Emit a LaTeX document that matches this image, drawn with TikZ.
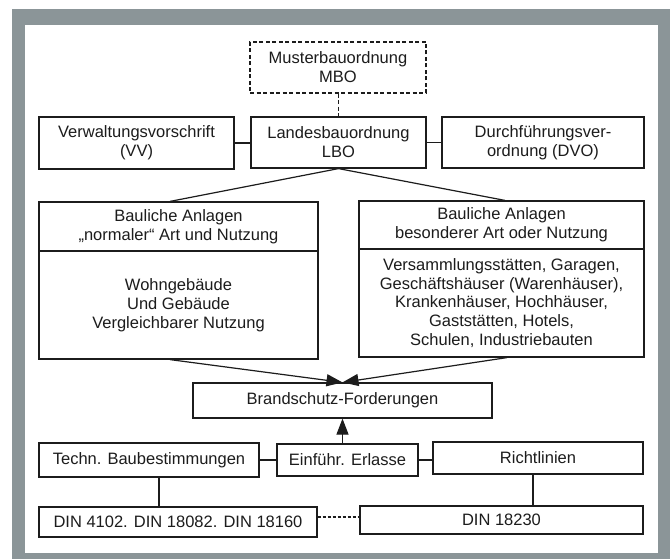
\documentclass[tikz,border=0pt]{standalone}
\usepackage{fontspec}
\setmainfont{Liberation Sans}
\usetikzlibrary{arrows.meta}
\definecolor{frame}{RGB}{139,149,152}
\definecolor{ink}{RGB}{28,28,28}
\begin{document}
\begin{tikzpicture}[x=1pt,y=-1pt,
  box/.style={draw=ink, line width=1.2pt, text=ink, align=center, inner sep=0pt,
    font=\fontsize{16.5}{19}\selectfont},
  conn/.style={draw=ink, line width=1.2pt},
  headtip/.style={-{Triangle[length=16pt,width=12pt]}}]
\useasboundingbox (0,0) rectangle (672,559);
\fill[white] (0,0) rectangle (672,559);
\fill[frame] (12,9) rectangle (670,559);
\fill[white] (25,25) rectangle (658,553);

\node[box, dash pattern=on 4pt off 2.5pt, minimum width=176pt, minimum height=51pt] (mbo) at (338,67.5) {Musterbauordnung\\MBO};
\node[box, minimum width=175pt, minimum height=51pt] (lbo) at (338.5,142.5) {Landesbauordnung\\LBO};
\node[box, minimum width=195pt, minimum height=52pt] (vv) at (136.5,143) {Verwaltungsvorschrift\\(VV)};
\node[box, minimum width=202pt, minimum height=51pt] (dvo) at (543,142.5) {Durchführungsver-\\ordnung (DVO)};

\node[box, minimum width=279pt, minimum height=49pt] (lt) at (178.5,226.5) {Bauliche Anlagen\\„normaler“ Art und Nutzung};
\node[box, minimum width=279pt, minimum height=108pt] (lb) at (178.5,305) {Wohngebäude\\Und Gebäude\\Vergleichbarer Nutzung};
\node[box, minimum width=285pt, minimum height=48pt] (rt) at (501.5,225) {Bauliche Anlagen\\besonderer Art oder Nutzung};
\node[box, minimum width=285pt, minimum height=108pt, font=\fontsize{16.5}{18.8}\selectfont] (rb) at (501.5,303) {Versammlungsstätten, Garagen,\\Geschäftshäuser (Warenhäuser),\\Krankenhäuser, Hochhäuser,\\Gaststätten, Hotels,\\Schulen, Industriebauten};

\node[box, minimum width=299pt, minimum height=35pt] (brand) at (342.5,400.5) {Brandschutz-Forderungen};
\node[box, minimum width=220pt, minimum height=34pt] (techn) at (149,460) {Techn. Baubestimmungen};
\node[box, minimum width=141pt, minimum height=32pt] (ein) at (347.5,460) {Einführ. Erlasse};
\node[box, minimum width=210pt, minimum height=32pt] (rich) at (538,458) {Richtlinien};
\node[box, minimum width=278pt, minimum height=30pt] (din1) at (178,522) {DIN 4102. DIN 18082. DIN 18160};
\node[box, minimum width=283pt, minimum height=28pt] (din2) at (501.5,520) {DIN 18230};

\draw[conn, dash pattern=on 4pt off 2.5pt] (mbo.south -| lbo.north) -- (lbo.north);
\draw[conn] (vv.east) -- (vv.east -| lbo.west);
\draw[conn] (lbo.east) -- (lbo.east -| dvo.west);
\draw[conn] (lbo.south) -- ([xshift=-8.5pt]lt.north);
\draw[conn] (lbo.south) -- ([xshift=3.5pt]rt.north);
\draw[conn, headtip] ([xshift=-8.5pt]lb.south) -- (brand.north);
\draw[conn, headtip] ([xshift=5.5pt]rb.south) -- (brand.north);
\draw[conn, headtip] (ein.north -| brand.south) -- (brand.south);
\draw[conn] (techn.east) -- (ein.west);
\draw[conn] (ein.east) -- (ein.east -| rich.west);
\draw[conn] ([xshift=10pt]techn.south) -- ([xshift=10pt]techn.south |- din1.north);
\draw[conn] ([xshift=-5pt]rich.south) -- ([xshift=-5pt]rich.south |- din2.north);
\draw[conn, dash pattern=on 3pt off 2pt] ([yshift=5pt]din1.east) -- ([yshift=5pt]din1.east -| din2.west);
\end{tikzpicture}
\end{document}
